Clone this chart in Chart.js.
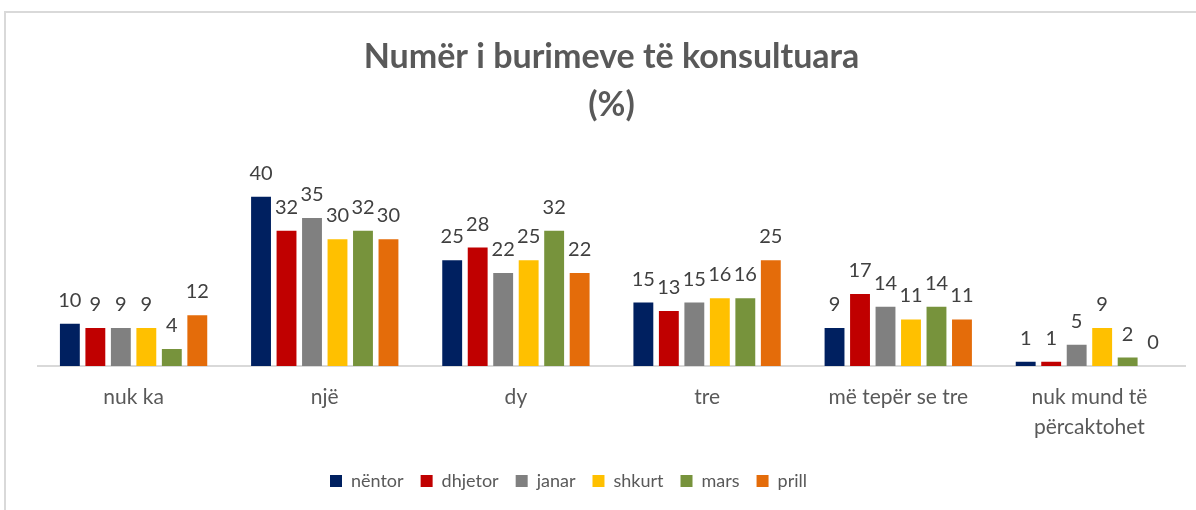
<!DOCTYPE html>
<html>
<head>
<meta charset="utf-8">
<script src="https://cdn.jsdelivr.net/npm/chart.js@4"></script>
<style>
  html, body { margin: 0; padding: 0; background: #fff; overflow: hidden; }
  #wrap { position: relative; width: 1196px; height: 510px; }
  #frame { position: absolute; left: 4px; top: 11px; width: 1400px; height: 700px; border: 2px solid #d9d9d9; }
  #chart { position: absolute; left: 0; top: 0; }
</style>
</head>
<body>
<div id="wrap">
  <div id="frame"></div>
  <canvas id="chart" width="1196" height="510"></canvas>
</div>
<script>
"use strict";

//Data
const categories = ["nuk ka", "një", "dy", "tre", "më tepër se tre", ["nuk mund të", "përcaktohet"]];
const months = ["nëntor", "dhjetor", "janar", "shkurt", "mars", "prill"];
const nentor = [10, 40, 25, 15, 9, 1];
const dhjetor = [9, 32, 28, 13, 17, 1];
const janar = [9, 35, 22, 15, 14, 5];
const shkurt = [9, 30, 25, 16, 11, 9];
const mars = [4, 32, 32, 16, 14, 2];
const prill = [12, 30, 22, 25, 11, 0];
const colors = ["#002060", "#C00000", "#808080", "#FFC000", "#77933C", "#E46C0A"];

const series = [nentor, dhjetor, janar, shkurt, mars, prill];

//Labels above the bars
const barValues = {
  id: "barValues",
  afterDatasetsDraw(chart) {
    const ctx = chart.ctx;
    ctx.save();
    ctx.font = "20px Lato";
    ctx.fillStyle = "#404040";
    ctx.textAlign = "center";
    ctx.textBaseline = "alphabetic";
    chart.data.datasets.forEach((ds, i) => {
      chart.getDatasetMeta(i).data.forEach((bar, j) => {
        ctx.fillText(ds.data[j], bar.x, bar.y - 17);
      });
    });
    ctx.restore();
  },
};

//Legend sits a bit left of the plot centre
const shiftLegend = {
  id: "shiftLegend",
  afterLayout(chart) {
    chart.legend.left -= 43;
    chart.legend.right -= 43;
  },
};

new Chart(document.getElementById("chart"), {
  type: "bar",
  data: {
    labels: categories,
    datasets: months.map((m, i) => ({
      label: m,
      data: series[i],
      backgroundColor: colors[i],
      categoryPercentage: 0.8,
      barPercentage: 0.78,
    })),
  },
  plugins: [barValues, shiftLegend],
  options: {
    responsive: false,
    animation: false,
    layout: { padding: { top: 33, left: 38, right: 11, bottom: 10 } },
    plugins: {
      title: {
        display: true,
        text: ["Numër i burimeve të konsultuara", "(%)"],
        color: "#595959",
        font: { family: "Lato", size: 34, weight: "bold", lineHeight: 1.42 },
        padding: { top: 0, bottom: 25 },
      },
      legend: {
        position: "bottom",
        labels: {
          boxWidth: 12,
          boxHeight: 12,
          padding: 17,
          color: "#595959",
          font: { family: "Lato", size: 18 },
        },
      },
      tooltip: { enabled: false },
    },
    scales: {
      x: {
        grid: { display: false },
        border: { color: "#d9d9d9", width: 2 },
        ticks: {
          color: "#595959",
          padding: 9,
          font: { family: "Lato", size: 21, lineHeight: 1.4 },
          maxRotation: 0,
        },
        afterFit(scale) {
          scale.height = 89;
        },
      },
      y: {
        display: false,
        min: 0,
        max: 50,
      },
    },
  },
});
</script>
</body>
</html>
